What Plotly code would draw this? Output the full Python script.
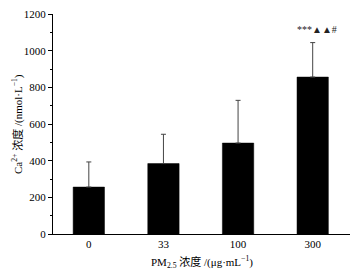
import plotly.graph_objects as go

categories = ["0", "33", "100", "300"]
means = [256, 384, 496, 856]
errors = [137, 160, 233, 188]
annotation_text = "***▲▲#"

serif = "Liberation Serif, Times New Roman, Noto Sans CJK SC, serif"

fig = go.Figure()
fig.add_trace(go.Bar(
    x=categories, y=means,
    marker=dict(color="black", line=dict(color="black", width=0.5)),
    width=0.42,
    error_y=dict(type="data", array=errors, arrayminus=[0]*len(errors), symmetric=False,
                 color="#444444", thickness=1, width=2.5),
))
fig.add_annotation(x=len(categories) - 1, y=means[-1] + errors[-1], text=annotation_text,
                   xref="x", yref="y",
                   showarrow=False, yshift=13, xshift=4,
                   font=dict(family=serif, size=10, color="#222"))

fig.add_annotation(xref="paper", yref="paper", x=0.5, y=0, yshift=-28, yanchor="middle",
                   text="PM<sub>2.5</sub> 浓度 /(μg·mL<sup>−1</sup>)", showarrow=False,
                   font=dict(family=serif, size=11, color="black"))
fig.add_annotation(xref="paper", yref="paper", x=0, xshift=-36, y=0.5, textangle=-90,
                   xanchor="center", yanchor="middle",
                   text="Ca<sup>2+</sup> 浓度 /(nmol·L<sup>−1</sup>)", showarrow=False,
                   font=dict(family=serif, size=11, color="black"))

fig.update_layout(
    width=351, height=265,
    margin=dict(l=45, r=9, t=6, b=39, autoexpand=False),
    plot_bgcolor="white", paper_bgcolor="white",
    showlegend=False,
    font=dict(family=serif, size=11, color="black"),
)
fig.update_xaxes(
    type="category", range=[-0.48, 3.5], automargin=False,
    showline=True, linecolor="black", linewidth=1,
    ticks="", showgrid=False, zeroline=False,
    tickfont=dict(family=serif, size=11),
)
fig.update_yaxes(
    range=[0, 1200], tickvals=[0, 200, 400, 600, 800, 1000, 1200], automargin=False,
    ticklabeloverflow="allow",
    showline=True, linecolor="black", linewidth=1,
    ticks="outside", ticklen=4, tickwidth=1, tickcolor="black",
    minor=dict(tickvals=[100, 300, 500, 700, 900, 1100], ticks="outside", ticklen=2, tickcolor="black"),
    showgrid=False, zeroline=False,
    tickfont=dict(family=serif, size=11),
)

fig.write_html("out.html")
